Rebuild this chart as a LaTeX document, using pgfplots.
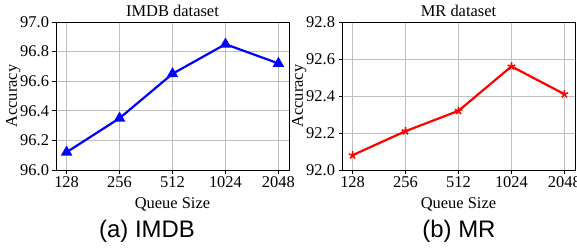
\documentclass[border=0pt]{standalone}
\usepackage{fontspec}
\setmainfont{Liberation Serif}
\newfontfamily\capfont{Liberation Sans}
\usepackage{pgfplots}
\pgfplotsset{compat=1.18}
\pgfplotsset{
  myax/.style={
    scale only axis, width=233bp, height=148bp,
    xmin=-0.2, xmax=4.2,
    xtick={0,1,2,3,4}, xticklabels={128,256,512,1024,2048},
    xtick pos=left, ytick pos=left,
    tick align=outside, major tick length=3.5bp,
    grid=major, major grid style={color=black!25, line width=0.9bp},
    axis line style={line width=0.9bp},
    every tick/.style={black, line width=0.8bp},
    font=\fontsize{16.5}{19}\selectfont,
    ticklabel style={font=\fontsize{16.5}{19}\selectfont},
    /pgf/number format/assume math mode=true,
    yticklabel style={/pgf/number format/fixed, /pgf/number format/fixed zerofill, /pgf/number format/precision=1},
    scaled y ticks=false,
    xlabel={Queue Size}, ylabel={Accuracy},
    title style={yshift=-4bp},
    xlabel style={yshift=-3bp},
    ylabel style={yshift=-7bp},
    anchor=south west,
  }
}
\begin{document}
\begin{tikzpicture}
\path[use as bounding box] (0,0) rectangle (577bp,248bp);
\begin{axis}[myax, at={(56bp,78bp)}, title={IMDB dataset},
  ymin=96, ymax=97, ytick={96,96.2,96.4,96.6,96.8,97}]
\addplot[blue, line width=2.2bp, mark=triangle*, mark size=4.5bp, mark options={solid}] coordinates {
(0,96.12) (1,96.35) (2,96.65) (3,96.85) (4,96.72)};
\end{axis}
\begin{axis}[myax, at={(342bp,78bp)}, title={MR dataset},
  ymin=92, ymax=92.8, ytick={92,92.2,92.4,92.6,92.8}]
\addplot[red, line width=2.2bp, mark=star, mark size=4bp, mark options={solid, line width=1.6bp}] coordinates {
(0,92.08) (1,92.21) (2,92.32) (3,92.56) (4,92.41)};
\end{axis}
\node[font=\capfont\fontsize{24}{27}\selectfont] at (147bp,17bp) {(a) IMDB};
\node[font=\capfont\fontsize{24}{27}\selectfont] at (459bp,17bp) {(b) MR};
\end{tikzpicture}
\end{document}
